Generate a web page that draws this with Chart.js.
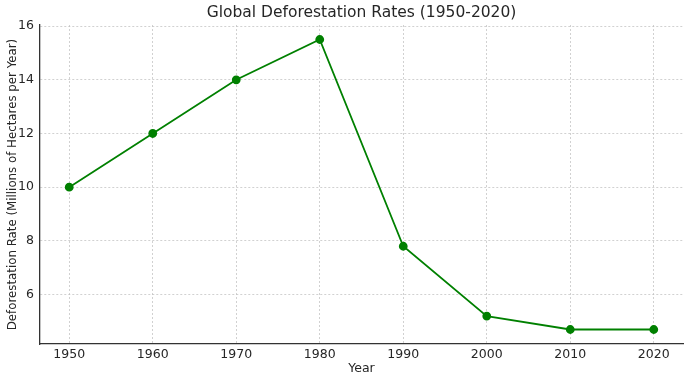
<!DOCTYPE html>
<html>
<head>
<meta charset="utf-8">
<script src="https://cdn.jsdelivr.net/npm/chart.js@4"></script>
<style>
  html, body { margin: 0; padding: 0; background: #fff; }
  #wrap { width: 690px; height: 380px; }
</style>
</head>
<body>
<div id="wrap"><canvas id="chart"></canvas></div>
<script>
const years = [1950, 1960, 1970, 1980, 1990, 2000, 2010, 2020];
const rates = [10, 12, 14, 15.5, 7.8, 5.2, 4.7, 4.7];
const yTicks = [6, 8, 10, 12, 14, 16];
const titleText = "Global Deforestation Rates (1950-2020)";

const font = "'DejaVu Sans', sans-serif";
const textColor = "#262626";
const gridColor = "rgba(190,190,190,0.7)";

// title centred over the plot area, like matplotlib does it
const plotTitle = {
  id: "plotTitle",
  afterDraw: chart => {
    const c = chart.ctx;
    const area = chart.chartArea;
    c.save();
    c.fillStyle = textColor;
    c.font = "15.5px " + font;
    c.textAlign = "center";
    c.textBaseline = "middle";
    c.fillText(titleText, (area.left + area.right) / 2, 13);
    c.restore();
  }
};

const ctx = document.getElementById("chart").getContext("2d");
new Chart(ctx, {
  type: "line",
  data: {
    datasets: [{
      data: years.map((y, i) => ({ x: y, y: rates[i] })),
      borderColor: "#008000",
      backgroundColor: "#008000",
      borderWidth: 1.8,
      pointRadius: 3.5,
      pointHoverRadius: 3.5,
      tension: 0
    }]
  },
  options: {
    responsive: true,
    maintainAspectRatio: false,
    animation: false,
    layout: { padding: { left: 0, right: 7, top: 25, bottom: 0 } },
    plugins: {
      legend: { display: false },
      tooltip: { enabled: false },
      title: { display: false }
    },
    scales: {
      x: {
        type: "linear",
        min: 1946.5,
        max: 2023.5,
        afterBuildTicks: axis => { axis.ticks = years.map(v => ({ value: v })); },
        afterFit: axis => { axis.height = 36; },
        ticks: {
          color: textColor,
          font: { family: font, size: 12.5 },
          padding: 3,
          maxRotation: 0,
          callback: v => String(v)
        },
        grid: { color: gridColor, drawTicks: false },
        border: { color: "#333", width: 1.3, dash: [2, 2] },
        title: {
          display: true,
          text: "Year",
          color: textColor,
          font: { family: font, size: 12.5 },
          padding: { top: 0, bottom: 4 }
        }
      },
      y: {
        min: 4.16,
        max: 16.04,
        afterBuildTicks: axis => { axis.ticks = yTicks.map(v => ({ value: v })); },
        afterFit: axis => { axis.width = 40; },
        ticks: {
          color: textColor,
          font: { family: font, size: 12.5 },
          padding: 6
        },
        grid: { color: gridColor, drawTicks: false },
        border: { color: "#333", width: 1.3, dash: [2, 2] },
        title: {
          display: true,
          text: "Deforestation Rate (Millions of Hectares per Year)",
          color: textColor,
          font: { family: font, size: 11.8 },
          padding: { top: 6, bottom: 0 }
        }
      }
    }
  },
  plugins: [plotTitle]
});
</script>
</body>
</html>
